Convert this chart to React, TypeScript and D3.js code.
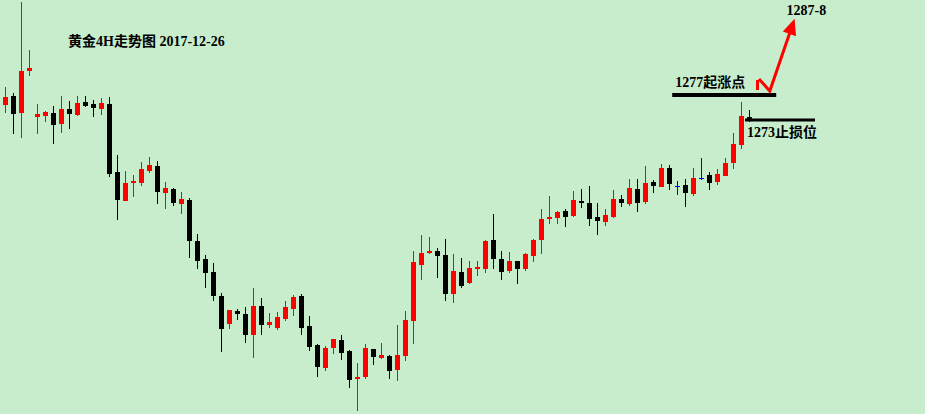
import { useEffect, useRef } from 'react';
import * as d3 from 'd3';

// 黄金 4H candles (price units)
const opens = [
  1275.4, 1276.84, 1274.12, 1280.84, 1273.48, 1273.64, 1274.12, 1272.36, 1274.76, 1273.8,
  1275.88, 1275.56, 1274.76, 1275.56, 1264.68, 1260.04, 1262.92, 1262.92, 1264.84, 1265.64,
  1261.32, 1261.96, 1259.56, 1260.2, 1253.64, 1250.76, 1248.68, 1244.84, 1240.36, 1242.44,
  1241.96, 1238.6, 1243.24, 1240.2, 1239.72, 1241.16, 1242.76, 1244.84, 1240.04, 1237.0,
  1233.32, 1236.52, 1237.8, 1236.04, 1231.56, 1231.88, 1236.36, 1234.92, 1235.24, 1233.0,
  1235.24, 1240.84, 1249.8, 1251.72, 1252.04, 1251.4, 1245.16, 1248.68, 1246.92, 1249.16,
  1249.16, 1253.8, 1250.76, 1248.84, 1250.44, 1249.16, 1251.24, 1253.8, 1257.16, 1257.32,
  1258.44, 1257.64, 1260.04, 1259.72, 1257.48, 1256.68, 1257.48, 1260.36, 1259.56, 1261.96,
  1259.88, 1263.08, 1262.28, 1265.32, 1262.52, 1262.6, 1261.16, 1263.72, 1264.2, 1263.08,
  1264.04, 1266.12, 1269.0, 1273.48,
];
const highs = [
  1278.28, 1277.32, 1291.88, 1284.2, 1275.56, 1274.44, 1275.24, 1276.84, 1276.04, 1276.84,
  1276.84, 1276.2, 1276.52, 1276.68, 1267.4, 1264.84, 1264.2, 1266.28, 1267.08, 1266.44,
  1263.08, 1262.12, 1261.48, 1260.52, 1254.76, 1251.4, 1250.12, 1245.32, 1242.6, 1242.76,
  1243.08, 1246.12, 1244.52, 1242.12, 1242.28, 1244.04, 1245.0, 1245.16, 1241.64, 1237.16,
  1236.84, 1237.96, 1238.6, 1236.2, 1234.12, 1237.16, 1236.36, 1237.32, 1235.4, 1240.2,
  1242.44, 1252.04, 1254.6, 1254.28, 1252.52, 1253.96, 1251.56, 1250.92, 1250.44, 1250.44,
  1253.8, 1257.96, 1252.04, 1251.88, 1250.44, 1251.72, 1253.96, 1258.76, 1260.84, 1258.44,
  1258.76, 1261.64, 1261.96, 1262.44, 1259.72, 1258.76, 1261.8, 1261.0, 1263.56, 1263.56,
  1265.64, 1263.4, 1265.96, 1265.8, 1263.24, 1263.56, 1265.32, 1266.92, 1264.68, 1265.16,
  1266.92, 1270.92, 1275.88, 1274.6,
];
const lows = [
  1274.12, 1270.76, 1270.12, 1280.04, 1270.76, 1272.68, 1269.16, 1270.92, 1271.56, 1273.64,
  1275.08, 1273.48, 1273.8, 1263.88, 1257.0, 1260.04, 1260.68, 1262.44, 1264.52, 1259.56,
  1258.76, 1259.24, 1257.96, 1250.92, 1249.16, 1246.12, 1244.04, 1235.88, 1239.56, 1241.0,
  1237.32, 1234.92, 1238.6, 1239.72, 1239.4, 1240.84, 1241.64, 1238.6, 1236.04, 1231.88,
  1232.84, 1235.56, 1234.6, 1230.12, 1226.44, 1231.56, 1233.8, 1234.76, 1231.56, 1231.24,
  1234.44, 1237.16, 1247.4, 1251.56, 1247.72, 1244.04, 1243.72, 1246.12, 1246.76, 1248.04,
  1248.52, 1249.16, 1247.4, 1248.52, 1246.76, 1248.84, 1250.28, 1251.56, 1256.36, 1256.36,
  1255.88, 1257.48, 1258.92, 1256.04, 1254.6, 1256.04, 1257.32, 1259.08, 1259.24, 1258.28,
  1259.56, 1261.32, 1262.28, 1261.8, 1261.0, 1259.08, 1260.84, 1263.4, 1261.8, 1262.6,
  1264.04, 1265.16, 1268.36, 1272.68,
];
const closes = [
  1276.68, 1273.96, 1280.84, 1281.32, 1273.96, 1274.28, 1272.2, 1274.76, 1273.96, 1275.72,
  1275.24, 1274.92, 1275.72, 1264.36, 1260.2, 1262.92, 1263.24, 1265.16, 1265.8, 1261.48,
  1262.12, 1259.72, 1260.36, 1253.64, 1250.44, 1248.52, 1244.84, 1239.56, 1242.6, 1241.96,
  1238.6, 1243.24, 1240.2, 1240.68, 1241.48, 1243.08, 1244.68, 1239.72, 1236.68, 1233.48,
  1236.52, 1237.96, 1235.72, 1231.4, 1231.88, 1236.52, 1235.08, 1235.4, 1232.84, 1235.4,
  1241.0, 1250.28, 1251.72, 1252.04, 1251.24, 1245.16, 1248.84, 1246.44, 1249.32, 1249.48,
  1253.64, 1250.76, 1248.68, 1250.44, 1249.16, 1251.56, 1253.8, 1257.16, 1257.48, 1258.28,
  1257.48, 1260.2, 1259.72, 1257.16, 1256.84, 1257.8, 1260.36, 1259.72, 1262.12, 1259.72,
  1262.92, 1262.44, 1265.32, 1262.76, 1262.52, 1261.32, 1263.72, 1263.72, 1262.92, 1264.36,
  1266.12, 1269.16, 1273.64, 1273.0,
];

const title = '黄金4H走势图 2017-12-26';

// key levels: [price, from candle index, to candle index, label, thickness]
const levelPrices = [1277, 1273];
const levelFrom = [83.4, 92.5];
const levelTo = [96.4, 101.25];
const levelLabels = ['1277起涨点', '1273止损位'];
const levelThickness = [4, 3];

// projected path: [candle index, price]
const arrowPath: [number, number][] = [
  [94.25, 1279.56],
  [95.6, 1277.64],
  [98.7, 1289.2],
];
const targetLabel = '1287-8';

const W = 925;
const H = 414;
const BG = '#c7edcc';
const UP = '#ff0000';
const DOWN = '#000000';
const DOJI = '#0000ff';
const FONT = '"Liberation Serif", "DejaVu Serif", "Noto Sans CJK SC", serif';

export default function App() {
  const ref = useRef<SVGSVGElement>(null);

  useEffect(() => {
    if (!ref.current) return;
    const svg = d3.select(ref.current);
    svg.selectAll('*').remove();

    const n = opens.length;
    const x = d3.scaleLinear().domain([0, n - 1]).range([5, 5 + 8 * (n - 1)]);
    const y = d3.scaleLinear().domain([1273, 1277]).range([120, 95]);
    const bodyW = 5;

    svg.append('rect').attr('width', W).attr('height', H).attr('fill', BG);

    const candles = svg
      .append('g')
      .selectAll('g')
      .data(d3.range(n))
      .join('g')
      .attr('shape-rendering', 'crispEdges');

    const colorOf = (i: number) =>
      closes[i] > opens[i] ? UP : closes[i] < opens[i] ? DOWN : DOJI;

    candles
      .append('line')
      .attr('x1', (i) => Math.round(x(i)) + 0.5)
      .attr('x2', (i) => Math.round(x(i)) + 0.5)
      .attr('y1', (i) => y(highs[i]))
      .attr('y2', (i) => y(lows[i]))
      .attr('stroke', colorOf)
      .attr('stroke-width', 1);

    candles
      .append('rect')
      .attr('x', (i) => Math.round(x(i)) + 0.5 - bodyW / 2)
      .attr('y', (i) => y(Math.max(opens[i], closes[i])))
      .attr('width', bodyW)
      .attr('height', (i) => Math.max(1, Math.abs(y(opens[i]) - y(closes[i]))))
      .attr('fill', colorOf);

    // key level lines + labels
    levelPrices.forEach((p, k) => {
      svg
        .append('rect')
        .attr('x', x(levelFrom[k]))
        .attr('y', y(p) - levelThickness[k] / 2)
        .attr('width', x(levelTo[k]) - x(levelFrom[k]))
        .attr('height', levelThickness[k])
        .attr('fill', '#000');
    });

    svg
      .append('text')
      .attr('x', x(levelFrom[0]) + 3)
      .attr('y', y(levelPrices[0]) - 8)
      .text(levelLabels[0]);
    svg
      .append('text')
      .attr('x', x(levelFrom[1]) + 2)
      .attr('y', y(levelPrices[1]) + 16.5)
      .text(levelLabels[1]);

    // projected move (red arrow)
    const pts = arrowPath.map(([i, p]) => [x(i), y(p)] as [number, number]);
    svg
      .append('rect')
      .attr('x', pts[0][0] - 3)
      .attr('y', pts[0][1] + 1)
      .attr('width', 3)
      .attr('height', 10)
      .attr('fill', UP);

    const [tx, ty] = pts[pts.length - 1];
    const [px, py] = pts[pts.length - 2];
    const len = Math.hypot(tx - px, ty - py);
    const ux = (tx - px) / len;
    const uy = (ty - py) / len;
    const headL = 16;
    const headW = 7;
    const bx = tx - ux * headL;
    const by = ty - uy * headL;

    const shaft = [...pts.slice(0, -1), [bx + ux * 2, by + uy * 2] as [number, number]];
    svg
      .append('path')
      .attr('d', d3.line()(shaft))
      .attr('fill', 'none')
      .attr('stroke', UP)
      .attr('stroke-width', 3)
      .attr('stroke-linejoin', 'miter');

    svg
      .append('path')
      .attr(
        'd',
        `M${tx},${ty}L${bx - uy * headW},${by + ux * headW}L${bx + uy * headW},${by - ux * headW}Z`
      )
      .attr('fill', UP);

    svg
      .append('text')
      .attr('x', tx - 8)
      .attr('y', ty - 4)
      .text(targetLabel);

    svg.append('text').attr('x', 68).attr('y', 46).text(title);

    svg
      .selectAll('text')
      .attr('font-family', FONT)
      .attr('font-size', 14)
      .attr('font-weight', 'bold')
      .attr('fill', '#000');

    svg.attr('viewBox', `0 0 ${W} ${H}`).attr('width', W).attr('height', H);
  }, []);

  return (
    <svg
      ref={ref}
      style={{ position: 'absolute', left: 0, top: 0, display: 'block' }}
    />
  );
}
